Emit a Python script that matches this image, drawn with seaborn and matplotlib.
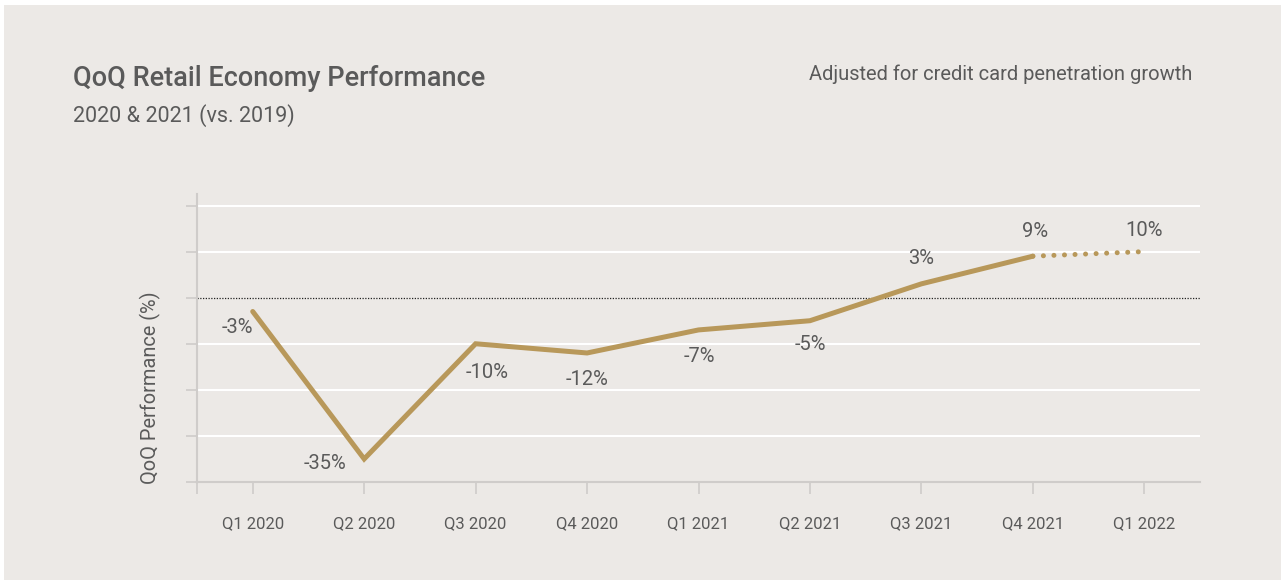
import matplotlib
matplotlib.use("Agg")
import matplotlib.pyplot as plt
import seaborn as sns
import pandas as pd
from matplotlib.patches import Rectangle

quarters = ["Q1 2020", "Q2 2020", "Q3 2020", "Q4 2020", "Q1 2021",
            "Q2 2021", "Q3 2021", "Q4 2021", "Q1 2022"]
values = [-3, -35, -10, -12, -7, -5, 3, 9, 10]
labels = ["-3%", "-35%", "-10%", "-12%", "-7%", "-5%", "3%", "9%", "10%"]
y_ticks = [20, 10, 0, -10, -20, -30, -40]

BG = "#ECE9E6"
GOLD = "#B8985A"
TXT = "#5A5A5A"
SPINE = "#CFCCCA"

sns.set_theme(style="white")
plt.rcParams["font.family"] = ["Roboto", "DejaVu Sans"]

fig = plt.figure(figsize=(12.85, 5.83), dpi=100, facecolor="white")
fig.patches.append(Rectangle((4 / 1285, 3 / 583), 1277 / 1285, 575 / 583,
                             transform=fig.transFigure, facecolor=BG,
                             edgecolor="none", zorder=-10))
ax = fig.add_axes([197 / 1285, 1 - 482 / 583, 1003 / 1285, 288 / 583])
ax.set_zorder(2)
ax.set_facecolor(BG)

df = pd.DataFrame({"x": list(range(len(quarters))), "y": values})
solid = df.iloc[:8]
dotted = df.iloc[7:]

# gridlines
for t in y_ticks:
    if t == 0:
        ax.axhline(0, color="#222222", lw=0.9, ls=(0, (1, 1.2)), zorder=1)
    elif t != -40:
        ax.axhline(t, color="white", lw=1.5, zorder=1)

sns.lineplot(data=solid, x="x", y="y", ax=ax, color=GOLD, lw=3.6,
             solid_capstyle="round", solid_joinstyle="miter", zorder=3)
sns.lineplot(data=dotted, x="x", y="y", ax=ax, color=GOLD, lw=3.6,
             dashes=False, zorder=3)
ax.lines[-1].set_linestyle((0, (0.01, 2.1)))
ax.lines[-1].set_dash_capstyle("round")

# data labels: (dx px, dy px, ha) relative to point, va center
offs = [(0, -16, "right"), (-18, -5, "right"),
        (12, -29, "center"), (0, -27, "center"),
        (1, -27, "center"), (0, -24, "center"),
        (0, 25, "center"), (2, 25, "center"),
        (0, 21, "center")]
for i, (v, lab) in enumerate(zip(values, labels)):
    dx, dy, ha = offs[i]
    ax.annotate(lab, (i, v), xytext=(dx * 0.72, dy * 0.72),
                textcoords="offset points",
                ha=ha, va="center", fontsize=14.5, color=TXT)

ax.set_xlim(-0.5, 8.5)
ax.set_ylim(-40, 22.5)
ax.set_yticks(y_ticks)
ax.set_yticklabels([])
ax.set_xticks([-0.5] + list(range(len(quarters))))
ax.set_xticklabels([""] + quarters, fontsize=12, color=TXT)
ax.tick_params(axis="x", direction="out", length=8.5, width=1.2,
               color=SPINE, pad=16, bottom=True)
ax.tick_params(axis="y", direction="out", length=8, width=1.2,
               color=SPINE, left=True)
ax.set_xlabel("")
ax.set_ylabel("")
for s in ["top", "right"]:
    ax.spines[s].set_visible(False)
for s in ["left", "bottom"]:
    ax.spines[s].set_color(SPINE)
    ax.spines[s].set_linewidth(1.5)

fig.text(150 / 1285, 1 - 388 / 583, "QoQ Performance (%)", rotation=90,
         ha="center", va="center", fontsize=14.4, color=TXT)
fig.text(73 / 1285, 1 - 79 / 583, "QoQ Retail Economy Performance",
         ha="left", va="center", fontsize=19.5, fontweight="medium", color=TXT)
fig.text(73 / 1285, 1 - 116 / 583, "2020 & 2021 (vs. 2019)",
         ha="left", va="center", fontsize=15.5, color=TXT)
fig.text(1192 / 1285, 1 - 74 / 583, "Adjusted for credit card penetration growth",
         ha="right", va="center", fontsize=14.5, color=TXT)

fig.savefig("out.png", dpi=100, facecolor="white")
